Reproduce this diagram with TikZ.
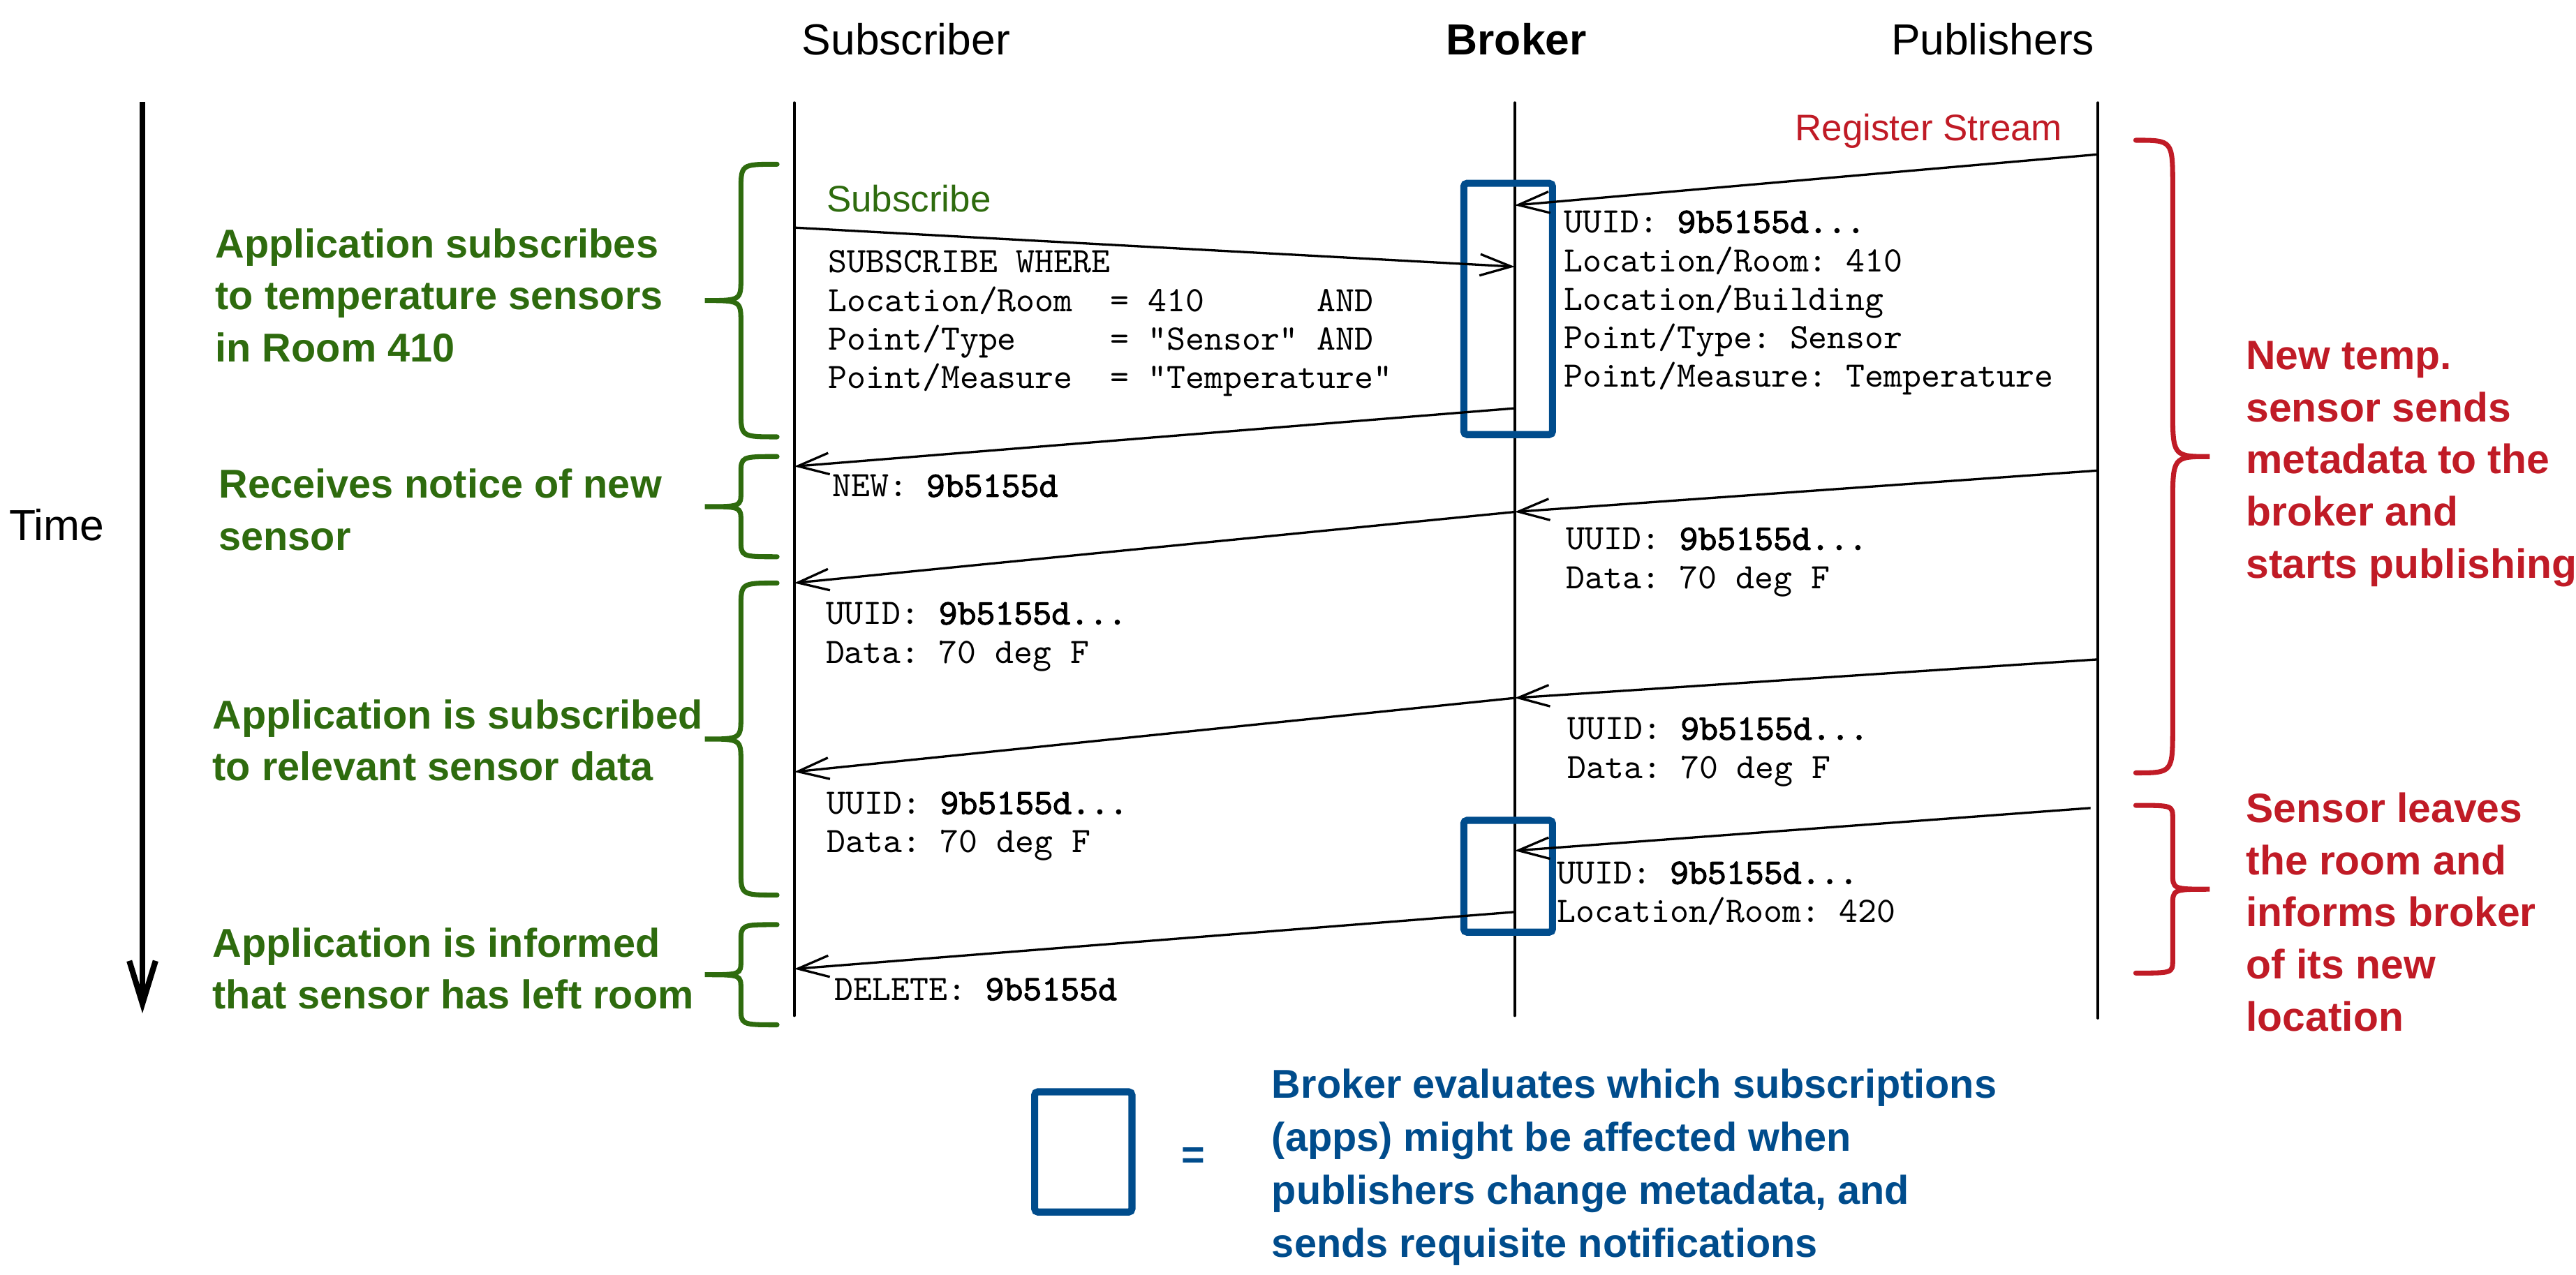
\documentclass[tikz,border=0pt]{standalone}
\usepackage{fontspec}
\setmainfont{Liberation Sans}
\setmonofont{lmmono10-regular}[Extension=.otf, BoldFont=lmmono10-regular, BoldFeatures={FakeBold=2.2}]
\usepackage{tikz}
\usetikzlibrary{arrows.meta}

\definecolor{subgreen}{RGB}{46,107,14}
\definecolor{pubred}{RGB}{192,27,38}
\definecolor{evalblue}{RGB}{0,76,140}

\tikzset{
    lifeline/.style={line width=1.5pt, line cap=round},
    msg/.style={line width=1.4pt, -{Straight Barb[length=19pt, width=13pt]}},
    headtext/.style={anchor=base, inner sep=0pt, font=\fontsize{26.5}{30}\selectfont},
    steplabel/.style={inner sep=0pt, font=\fontsize{22.5}{26}\selectfont},
    code/.style={anchor=base west, inner sep=0pt, align=left, font=\fontsize{21.8}{23.5}\selectfont\ttfamily},
    subnote/.style={anchor=base west, inner sep=0pt, align=left, text=subgreen, font=\fontsize{24.5}{31.6}\selectfont\bfseries},
    pubnote/.style={anchor=base west, inner sep=0pt, align=left, text=pubred, font=\fontsize{25}{31.8}\selectfont\bfseries},
    evalnote/.style={anchor=base west, inner sep=0pt, align=left, text=evalblue, font=\fontsize{24.5}{32.4}\selectfont\bfseries},
    evalbox/.style={draw=evalblue, line width=4.3pt, rounded corners=2pt},
    bracegreen/.style={draw=subgreen, line width=3pt, line cap=round},
    bracered/.style={draw=pubred, line width=3pt, line cap=round},
}

% #1 style, #2 x of the arms, #3 x of the tip, #4 top, #5 bottom, #6 end curl, #7 middle curl
\newcommand{\curlybrace}[7]{%
    \pgfmathsetmacro{\bxm}{(#2+#3)/2}
    \pgfmathsetmacro{\bym}{(#4+#5)/2}
    \draw [#1] (#2, #4) .. controls (\bxm, #4) .. (\bxm, #4+#6) -- (\bxm, \bym-#7)
        .. controls (\bxm, \bym) .. (#3, \bym) .. controls (\bxm, \bym) .. (\bxm, \bym+#7)
        -- (\bxm, #5-#6) .. controls (\bxm, #5) .. (#2, #5);
}

\begin{document}
\frenchspacing
\begin{tikzpicture}[x=1pt, y=-1pt]
    \useasboundingbox (0, 0) rectangle (1568, 776);

    \node [headtext] (subscriber) at (551.5, 33.3) {Subscriber};
    \node [headtext, font=\fontsize{26.5}{30}\selectfont\bfseries] (broker) at (923, 33.3) {Broker};
    \node [headtext] (publishers) at (1213, 33.3) {Publishers};
    \node [headtext] (time) at (34.5, 329) {Time};

    % time axis
    \coordinate (ttop) at (86.7, 62);
    \coordinate (tbot) at (86.7, 617);
    \draw [line width=3.5pt, -{Straight Barb[length=26pt, width=16pt]}] (ttop) -- (tbot);

    % lifelines
    \foreach \who/\x/\y in {sub/483.5/618.5, brk/922/618.5, pub/1277/620}{
        \coordinate (\who top) at (\x, 62.5);
        \coordinate (\who bot) at (\x, \y);
        \draw [lifeline] (\who top) -- (\who bot);
    }

    % broker evaluation boxes
    \draw [evalbox] (891, 111.6) rectangle (945, 264.6);
    \draw [evalbox] (891, 499.5) rectangle (945, 567.6);

    % messages
    \coordinate (p1) at (1277, 94);
    \coordinate (b1) at (922, 125);
    \coordinate (s2) at (483.5, 138.6);
    \coordinate (b2) at (922, 162.4);
    \coordinate (b3) at (922, 248.6);
    \coordinate (s3) at (483.5, 284);
    \coordinate (p4) at (1277, 286.5);
    \coordinate (b4) at (922, 311.7);
    \coordinate (s5) at (483.5, 355);
    \coordinate (p6) at (1277, 401.5);
    \coordinate (b6) at (922, 425);
    \coordinate (s7) at (483.5, 470);
    \coordinate (p8) at (1272.5, 492);
    \coordinate (b8) at (922, 518);
    \coordinate (b9) at (922, 555.3);
    \coordinate (s9) at (483.5, 590);
    \foreach \a/\b in {p1/b1, s2/b2, b3/s3, p4/b4, b4/s5, p6/b6, b6/s7, p8/b8, b9/s9}
        \draw [msg] (\a) -- (\b);

    \node [steplabel, anchor=base east, text=pubred] (register) at (1255.5, 85.7) {Register Stream};
    \node [steplabel, anchor=base west, text=subgreen] (subscribe) at (503, 128.8) {Subscribe};

    % message contents (placed on the baseline of the last line)
    \node [code] (meta1) at (952, 235.8) {UUID: \textbf{9b5155d...}\\Location/Room: 410\\Location/Building\\Point/Type: Sensor\\Point/Measure: Temperature};
    \node [code] (query) at (504, 236.6) {SUBSCRIBE WHERE\\Location/Room~~=~410~~~~~~AND\\Point/Type~~~~~=~"Sensor"~AND\\Point/Measure~~=~"Temperature"};
    \node [code] (newnote) at (506.4, 302.5) {NEW: \textbf{9b5155d}};
    \node [code] (data1) at (953.3, 358.3) {UUID: \textbf{9b5155d...}\\Data: 70 deg F};
    \node [code] (data1s) at (502.5, 403.7) {UUID: \textbf{9b5155d...}\\Data: 70 deg F};
    \node [code] (data2) at (954, 473.9) {UUID: \textbf{9b5155d...}\\Data: 70 deg F};
    \node [code] (data2s) at (503.3, 519.2) {UUID: \textbf{9b5155d...}\\Data: 70 deg F};
    \node [code] (meta2) at (947.6, 561.7) {UUID: \textbf{9b5155d...}\\Location/Room: 420};
    \node [code] (delnote) at (508, 609) {DELETE: \textbf{9b5155d}};

    % subscriber side notes
    \curlybrace{bracegreen}{473}{429}{100}{266}{16}{14}
    \curlybrace{bracegreen}{473}{429}{278}{339}{10.5}{9}
    \curlybrace{bracegreen}{473}{429}{355}{545}{15}{14}
    \curlybrace{bracegreen}{473}{429}{563}{624}{10.5}{9}
    \node [subnote] (appsubscribes) at (131, 220.2) {Application subscribes\\to temperature sensors\\in Room 410};
    \node [subnote] (gotnotice) at (133, 334.9) {Receives notice of new\\sensor};
    \node [subnote] (appdata) at (129.3, 475.3) {Application is subscribed\\to relevant sensor data};
    \node [subnote] (appinformed) at (129.3, 614.2) {Application is informed\\that sensor has left room};

    % publisher side notes
    \curlybrace{bracered}{1300}{1345}{85.4}{470.6}{28}{30}
    \curlybrace{bracered}{1300}{1345}{490.4}{592.5}{8}{10}
    \node [pubnote] (newsensor) at (1367, 352.1) {New temp.\\sensor sends\\metadata to the\\broker and\\starts publishing};
    \node [pubnote] (sensormoves) at (1367, 627.9) {Sensor leaves\\the room and\\informs broker\\of its new\\location};

    % legend
    \draw [evalbox] (629.8, 664.8) rectangle (689, 738);
    \node [evalnote, anchor=center] (equals) at (726.5, 705) {=};
    \node [evalnote] (evaltext) at (774, 765.7) {Broker evaluates which subscriptions\\(apps) might be affected when\\publishers change metadata, and\\sends requisite notifications};
\end{tikzpicture}
\end{document}
